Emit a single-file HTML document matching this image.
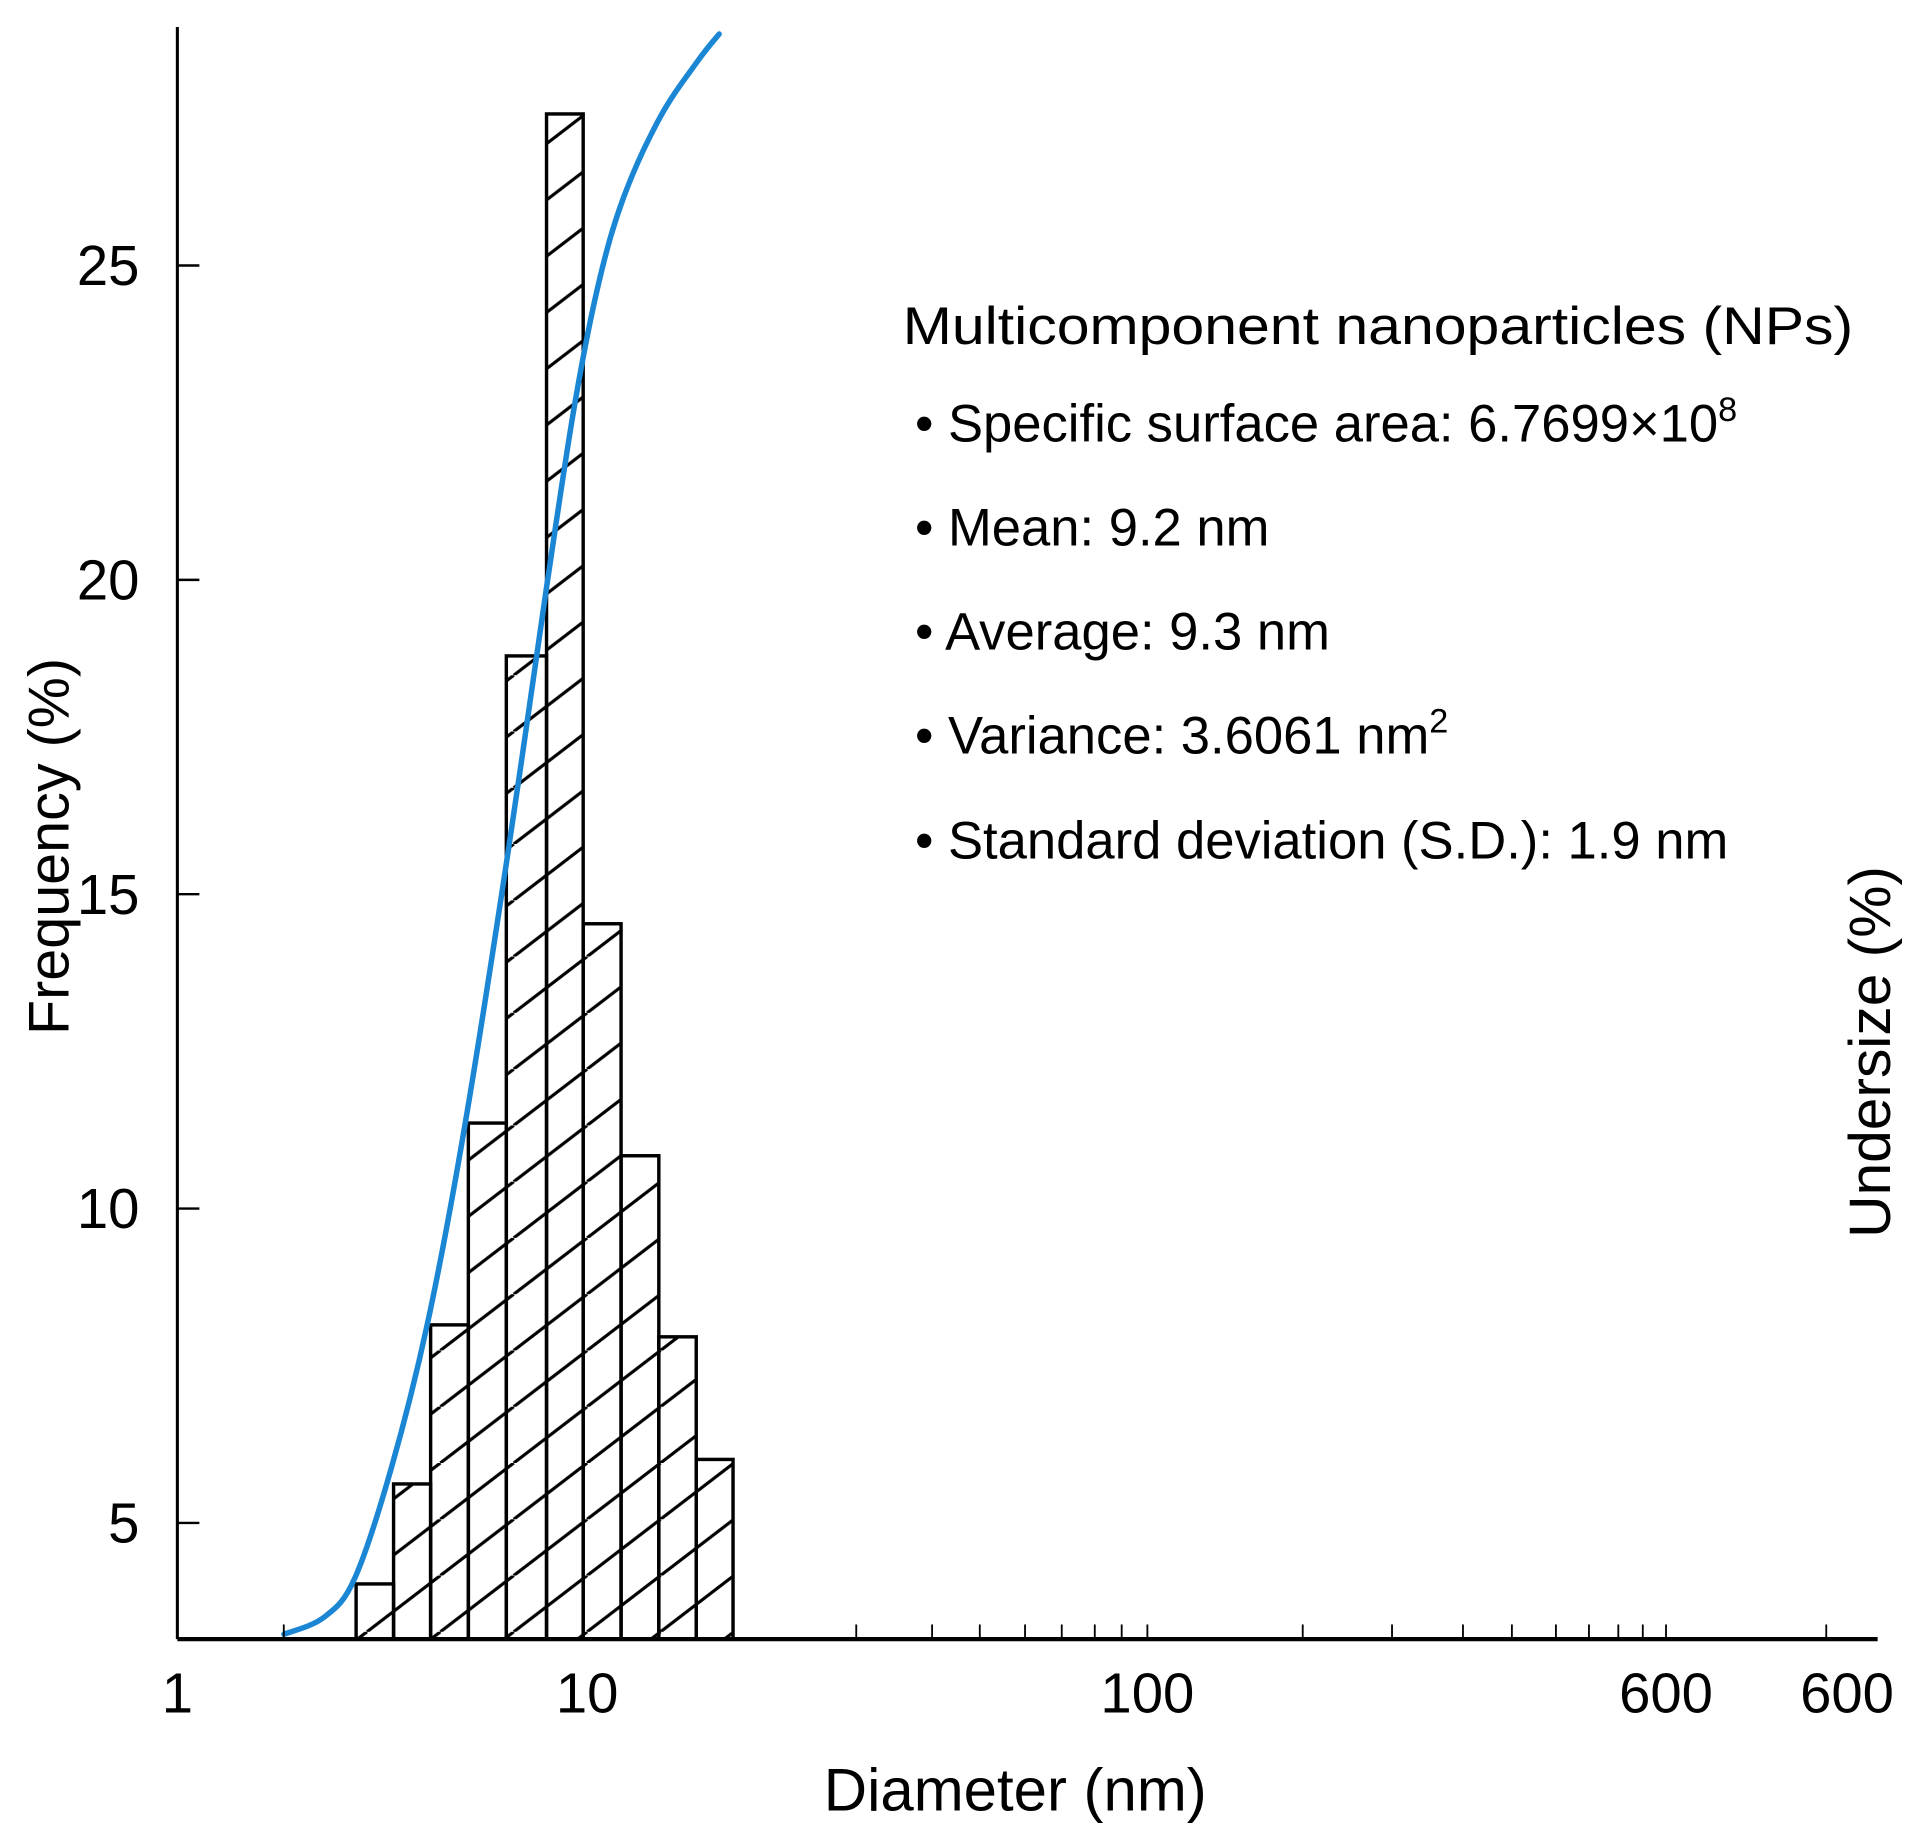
<!DOCTYPE html>
<html><head><meta charset="utf-8"><style>
html,body{margin:0;padding:0;background:#fff;}
svg{display:block;font-family:"Liberation Sans",sans-serif;}
</style></head><body>
<svg id="chart" width="1918" height="1830" viewBox="0 0 1568 1496" xmlns="http://www.w3.org/2000/svg">
<defs>
<pattern id="hatch" patternUnits="userSpaceOnUse" width="60" height="46">
<line x1="-60" y1="46" x2="0" y2="0" stroke="#000" stroke-width="2.6"/>
<line x1="0" y1="46" x2="60" y2="0" stroke="#000" stroke-width="2.6"/>
<line x1="60" y1="46" x2="120" y2="0" stroke="#000" stroke-width="2.6"/>
</pattern>
</defs>
<g id="plot"></g>
<line x1="145" y1="22" x2="145" y2="1340" stroke="#000" stroke-width="2.5"/>
<line x1="145" y1="1340" x2="1535" y2="1340" stroke="#000" stroke-width="3.5"/>
<text transform="translate(56,692) rotate(-90)" text-anchor="middle" font-size="47">Frequency (%)</text>
<text transform="translate(1545,860) rotate(-90)" text-anchor="middle" font-size="48">Undersize (%)</text>
<text x="830" y="1480" text-anchor="middle" font-size="49">Diameter (nm)</text>
<g font-size="43">
<text x="738" y="281" textLength="777" lengthAdjust="spacingAndGlyphs">Multicomponent nanoparticles (NPs)</text>
<text x="748" y="361">• Specific surface area: 6.7699×10<tspan dy="-17" font-size="28">8</tspan></text>
<text x="748" y="446">• Mean: 9.2 nm</text>
<text x="748" y="531">• Average: 9.3 nm</text>
<text x="748" y="616">• Variance: 3.6061 nm<tspan dy="-17" font-size="28">2</tspan></text>
<text x="748" y="702">• Standard deviation (S.D.): 1.9 nm</text>
</g>
</svg>
<script>
const binEdges = [2.73, 3.37, 4.15, 5.13, 6.35, 7.96, 9.78, 12.1, 14.96, 18.46, 22.7];
const frequencies = [4.03, 5.62, 8.15, 11.36, 18.79, 27.41, 14.53, 10.84, 7.96, 6.01];
const curveDiameters = [1.82, 2.28, 2.71, 3.33, 4.09, 5.03, 6.39, 7.96, 9.33, 10.7, 12.3, 15.1, 18.6, 21.0];
const curveValues = [3.23, 3.5, 4.12, 5.88, 8.21, 11.32, 15.6, 19.88, 22.8, 24.75, 26.1, 27.37, 28.25, 28.68];
const yTickValues = [5, 10, 15, 20, 25];
const yTickLabels = ["5", "10", "15", "20", "25"];
const xTickLabels = ["1", "10", "100", "600", "600"];
const xTickPx = [145, 480, 938, 1362, 1510];
const xMinorPx = [700,762,801,838,868,895,917,938,1065,1138,1196,1236,1272,1299,1323,1343,1362,1493,232];

const NS = "http://www.w3.org/2000/svg";
const svg = document.getElementById('chart');
const plot = document.getElementById('plot');
function x(d){ return 145 + 335*Math.log10(d); }
function y(v){ return 1502 - 51.4*v; }
function mk(tag, attrs, parent){ const e=document.createElementNS(NS,tag); for(const k in attrs) e.setAttribute(k,attrs[k]); (parent||plot).appendChild(e); return e; }

frequencies.forEach((f,i)=>{
  const x0=x(binEdges[i]), x1=x(binEdges[i+1]), yt=y(f);
  const r=mk('rect',{x:x0,y:yt,width:x1-x0,height:1340-yt,fill:'url(#hatch)',stroke:'#000','stroke-width':2.8});
  
  
});
const pts = curveDiameters.map((d,i)=>[x(d), y(curveValues[i])]);
let dstr='M'+pts[0][0].toFixed(1)+','+pts[0][1].toFixed(1);
for(let i=0;i<pts.length-1;i++){
  const p0=pts[Math.max(0,i-1)], p1=pts[i], p2=pts[i+1], p3=pts[Math.min(pts.length-1,i+2)];
  const c1=[p1[0]+(p2[0]-p0[0])/6, p1[1]+(p2[1]-p0[1])/6];
  const c2=[p2[0]-(p3[0]-p1[0])/6, p2[1]-(p3[1]-p1[1])/6];
  dstr+='C'+c1[0].toFixed(1)+','+c1[1].toFixed(1)+' '+c2[0].toFixed(1)+','+c2[1].toFixed(1)+' '+p2[0].toFixed(1)+','+p2[1].toFixed(1);
}
const curve=mk('path',{d:dstr,fill:'none',stroke:'#1a86d4','stroke-width':4.5,'stroke-linecap':'round'});



yTickValues.forEach((v,i)=>{
  const t=mk('line',{x1:145,x2:163,y1:y(v),y2:y(v),stroke:'#000','stroke-width':2},svg);
  
  
  const l=mk('text',{x:114,y:y(v)+16,'text-anchor':'end','font-size':46},svg);
  
  
  l.textContent=yTickLabels[i];
});
xMinorPx.forEach(p=>{
  const t=mk('line',{x1:p,x2:p,y1:1340,y2:1328,stroke:'#000','stroke-width':1.5},svg);
  
  
});
xTickLabels.forEach((s,i)=>{
  const l=mk('text',{x:xTickPx[i],y:1400,'text-anchor':'middle','font-size':46},svg);
  
  
  l.textContent=s;
});
</script>
</body></html>
